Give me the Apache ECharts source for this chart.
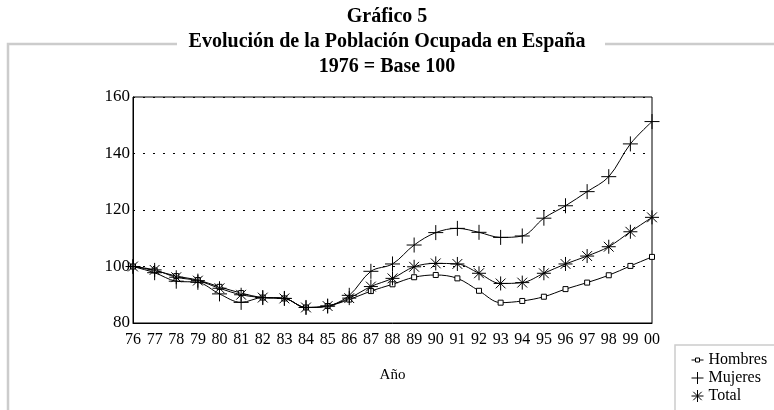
<!DOCTYPE html>
<html>
<head>
<meta charset="utf-8">
<script src="https://cdn.jsdelivr.net/npm/echarts@6/dist/echarts.min.js"></script>
<style>
html,body{margin:0;padding:0;background:#fff;}
#chart{width:774px;height:410px;}
</style>
</head>
<body>
<div id="chart"></div>
<script>
const years = ['76','77','78','79','80','81','82','83','84','85','86','87','88','89','90','91','92','93','94','95','96','97','98','99','00'];
const hombres = [100, 98.6, 96.6, 95.2, 92.8, 90.6, 89, 88.7, 85.5, 86, 88.3, 91.3, 93.7, 96.2, 97, 95.8, 91.4, 87.2, 87.8, 89.3, 92, 94.3, 96.9, 100.2, 103.4];
const mujeres = [100, 97.8, 94.8, 94.4, 90.3, 87.3, 89, 88.7, 85.5, 86, 89.8, 98.3, 100.9, 107.6, 112, 113.5, 112.1, 110.3, 110.8, 117.1, 121.5, 126.5, 131.8, 143.4, 151.3];
const total = [100, 98.8, 96.2, 95, 92.3, 90, 89, 88.7, 85.5, 86, 88.8, 92.9, 95.8, 99.9, 101.1, 100.9, 97.6, 94, 94.3, 97.6, 100.9, 103.7, 107, 112.3, 117.4];
const seriesNames = ['Hombres', 'Mujeres', 'Total'];
const titleLines = ['Gráfico 5', 'Evolución de la Población Ocupada en España', '1976 = Base 100'];

const serif = '"Liberation Serif", "DejaVu Serif", serif';
const plusPath = 'path://M0,-10L0,10M-10,0L10,0';
const starPath = 'path://M0,-10L0,10M-10,0L10,0M-7,-7L7,7M-7,7L7,-7';
const hombresIcon = 'path://M0,6L4,6M4,4L8,4L8,8L4,8ZM8,6L12,6M0,0L0,0M12,12L12,12';

const chart = echarts.init(document.getElementById('chart'));
chart.setOption({
  animation: false,
  backgroundColor: '#fff',
  title: titleLines.map((t, i) => ({
    text: t, left: 'center', top: 7 + i * 25, padding: 0,
    textStyle: {fontFamily: serif, fontSize: 20, fontWeight: 'bold', color: '#000'}
  })),
  graphic: [
    {type: 'polyline', shape: {points: [[177, 44], [8, 44], [8, 410]]}, style: {stroke: '#cccccc', lineWidth: 2.5, fill: null}},
    {type: 'line', shape: {x1: 605, y1: 44, x2: 774, y2: 44}, style: {stroke: '#cccccc', lineWidth: 2.5}},
    {type: 'rect', shape: {x: 675, y: 345, width: 120, height: 80}, style: {stroke: '#cccccc', lineWidth: 1.5, fill: null}}
  ],
  legend: {
    orient: 'vertical', left: 691, top: 352, itemGap: 2, itemWidth: 12, itemHeight: 12, padding: 0,
    data: [
      {name: seriesNames[0], icon: hombresIcon, itemStyle: {color: '#fff', borderColor: '#000', borderWidth: 1}},
      {name: seriesNames[1], icon: plusPath, itemStyle: {color: '#000', borderColor: '#000', borderWidth: 1}},
      {name: seriesNames[2], icon: starPath, itemStyle: {color: '#000', borderColor: '#000', borderWidth: 1}}
    ],
    textStyle: {fontFamily: serif, fontSize: 16, color: '#000'}
  },
  grid: {left: 133, right: 122, top: 97, bottom: 87, show: true, borderColor: '#000', borderWidth: 1},
  xAxis: {
    type: 'category', data: years, boundaryGap: false,
    name: 'Año', nameLocation: 'middle', nameGap: 45,
    nameTextStyle: {fontFamily: serif, fontSize: 15, color: '#000'},
    axisLine: {lineStyle: {color: '#000'}},
    axisTick: {show: false},
    axisLabel: {fontFamily: serif, fontSize: 16, color: '#000', margin: 9}
  },
  yAxis: {
    type: 'value', min: 80, max: 160, interval: 20,
    axisLine: {show: true, lineStyle: {color: '#000'}},
    axisTick: {show: false},
    axisLabel: {fontFamily: serif, fontSize: 17, color: '#000', margin: 3},
    splitLine: {lineStyle: {color: '#000', type: [2, 8], width: 1}}
  },
  series: [
    {name: seriesNames[0], type: 'line', data: hombres, smooth: 0.35, symbol: 'rect', symbolSize: 5,
     lineStyle: {color: '#000', width: 1}, itemStyle: {color: '#fff', borderColor: '#000', borderWidth: 1}},
    {name: seriesNames[1], type: 'line', data: mujeres, smooth: 0.35, symbol: plusPath, symbolSize: 15,
     lineStyle: {color: '#000', width: 1}, itemStyle: {color: '#000', borderColor: '#000', borderWidth: 1}},
    {name: seriesNames[2], type: 'line', data: total, smooth: 0.35, symbol: starPath, symbolSize: 14,
     lineStyle: {color: '#000', width: 1}, itemStyle: {color: '#000', borderColor: '#000', borderWidth: 1}}
  ]
});
</script>
</body>
</html>
